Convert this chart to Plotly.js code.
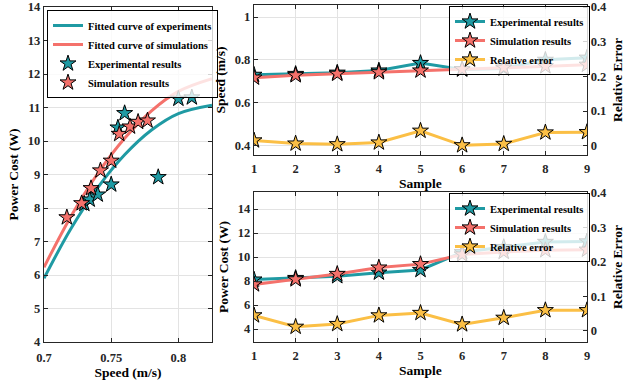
<!DOCTYPE html>
<html>
<head>
<meta charset="utf-8">
<script src="https://cdn.plot.ly/plotly-3.0.1.min.js"></script>
<style>html,body{margin:0;padding:0;background:#fff;}#chart{width:637px;height:383px;}</style>
</head>
<body>
<div id="chart"></div>
<script>
// ---- data ----
var samples = [1, 2, 3, 4, 5, 6, 7, 8, 9];
var expSpeed = [0.730, 0.734, 0.740, 0.750, 0.785, 0.755, 0.760, 0.800, 0.810];
var simSpeed = [0.717, 0.728, 0.735, 0.742, 0.750, 0.756, 0.764, 0.770, 0.777];
var speedErr = [0.015, 0.006, 0.004, 0.009, 0.043, 0.001, 0.005, 0.038, 0.039];
var expPower = [8.12, 8.25, 8.40, 8.70, 8.92, 10.40, 10.83, 11.26, 11.30];
var simPower = [7.72, 8.14, 8.59, 9.12, 9.41, 10.21, 10.43, 10.57, 10.61];
var powerErr = [0.045, 0.012, 0.020, 0.045, 0.052, 0.019, 0.038, 0.060, 0.060];
// fitted curves
var fitSpeed = [0.700, 0.720, 0.740, 0.760, 0.780, 0.800, 0.825];
var fitExpPower = [5.90, 7.38, 8.61, 9.59, 10.33, 10.82, 11.07];
var fitSimPower = [6.23, 7.75, 9.03, 10.08, 10.90, 11.48, 11.86];

var teal = '#1f9aa3', red = '#f4716b', yellow = '#fbbf45';
var FONT = 'Liberation Serif';
var axisCol = '#262626';

function star(color) {
  return {symbol: 'star', size: 12, color: color, line: {color: '#000', width: 1}};
}

var traces = [
  {x: fitSpeed, y: fitExpPower, mode: 'lines', line: {color: teal, width: 3, shape: 'spline'},
   name: 'Fitted curve of experiments', xaxis: 'x', yaxis: 'y', legend: 'legend'},
  {x: fitSpeed, y: fitSimPower, mode: 'lines', line: {color: red, width: 3, shape: 'spline'},
   name: 'Fitted curve of simulations', xaxis: 'x', yaxis: 'y', legend: 'legend'},
  {x: expSpeed, y: expPower, mode: 'markers', marker: star(teal),
   name: 'Experimental results', xaxis: 'x', yaxis: 'y', legend: 'legend'},
  {x: simSpeed, y: simPower, mode: 'markers', marker: star(red),
   name: 'Simulation results', xaxis: 'x', yaxis: 'y', legend: 'legend'},

  {x: samples, y: expSpeed, mode: 'lines+markers', line: {color: teal, width: 3}, marker: star(teal),
   name: 'Experimental results', xaxis: 'x2', yaxis: 'y2', legend: 'legend2'},
  {x: samples, y: simSpeed, mode: 'lines+markers', line: {color: red, width: 3}, marker: star(red),
   name: 'Simulation results', xaxis: 'x2', yaxis: 'y2', legend: 'legend2'},
  {x: samples, y: speedErr, mode: 'lines+markers', line: {color: yellow, width: 3}, marker: star(yellow),
   name: 'Relative error', xaxis: 'x2', yaxis: 'y3', legend: 'legend2'},

  {x: samples, y: expPower, mode: 'lines+markers', line: {color: teal, width: 3}, marker: star(teal),
   name: 'Experimental results', xaxis: 'x3', yaxis: 'y4', legend: 'legend3'},
  {x: samples, y: simPower, mode: 'lines+markers', line: {color: red, width: 3}, marker: star(red),
   name: 'Simulation results', xaxis: 'x3', yaxis: 'y4', legend: 'legend3'},
  {x: samples, y: powerErr, mode: 'lines+markers', line: {color: yellow, width: 3}, marker: star(yellow),
   name: 'Relative error', xaxis: 'x3', yaxis: 'y5', legend: 'legend3'}
];

var W = 637, H = 383;
function dx(a, b) { return [a / W, b / W]; }
function dy(top, bottom) { return [1 - bottom / H, 1 - top / H]; }

var tickFont = {family: FONT, size: 12.5, color: axisCol, weight: 700};
var titleFont = {family: FONT, size: 13.5, color: '#000', weight: 700};

function ax(extra) {
  var base = {
    showline: true, linecolor: axisCol, linewidth: 1.2,
    ticks: 'inside', ticklen: 4, tickcolor: axisCol, tickwidth: 1,
    showgrid: true, gridcolor: '#e3e3e3', gridwidth: 1,
    zeroline: false, tickfont: tickFont, automargin: false
  };
  for (var k in extra) base[k] = extra[k];
  return base;
}

function leg(x, y, size) {
  return {
    font: {family: FONT, size: size, color: '#000', weight: 700},
    bgcolor: 'rgba(255,255,255,0.8)', bordercolor: '#000', borderwidth: 1,
    xanchor: 'left', yanchor: 'top', itemwidth: 30, tracegroupgap: 0,
    x: x / W, y: 1 - y / H
  };
}

var layout = {
  width: W, height: H,
  margin: {l: 0, r: 0, t: 0, b: 0},
  paper_bgcolor: '#fff', plot_bgcolor: '#fff',
  showlegend: true,
  xaxis: ax({domain: dx(44, 212), range: [0.7, 0.825], tickvals: [0.7, 0.75, 0.8], ticktext: ['0.7', '0.75', '0.8'],
    mirror: 'ticks', anchor: 'y', ticklabelstandoff: 4, title: {text: 'Speed (m/s)', font: titleFont, standoff: 2}}),
  yaxis: ax({domain: dy(7, 342), range: [4, 14], dtick: 1, mirror: 'ticks', anchor: 'x',
    title: {text: 'Power Cost (W)', font: titleFont, standoff: 6}}),

  xaxis2: ax({domain: dx(254, 587), range: [1, 9], dtick: 1, mirror: 'ticks', anchor: 'y2', ticklabelstandoff: 2,
    title: {text: 'Sample', font: titleFont, standoff: 0}}),
  yaxis2: ax({domain: dy(5, 155), range: [0.356, 1.056], tickvals: [0.4, 0.6, 0.8, 1], ticktext: ['0.4', '0.6', '0.8', '1'],
    anchor: 'x2', title: {text: 'Speed (m/s)', font: titleFont, standoff: 6}}),
  yaxis3: ax({domain: dy(5, 155), range: [-0.027, 0.406], tickvals: [0, 0.1, 0.2, 0.3, 0.4], ticktext: ['0', '0.1', '0.2', '0.3', '0.4'],
    overlaying: 'y2', side: 'right', anchor: 'x2',
    showgrid: false, title: {text: 'Relative Error', font: titleFont, standoff: 6}}),

  xaxis3: ax({domain: dx(254, 587), range: [1, 9], dtick: 1, mirror: 'ticks', anchor: 'y4', ticklabelstandoff: 2,
    title: {text: 'Sample', font: titleFont, standoff: 0}}),
  yaxis4: ax({domain: dy(192, 342), range: [2.92, 15.42], tickvals: [4, 6, 8, 10, 12, 14],
    anchor: 'x3', title: {text: 'Power Cost (W)', font: titleFont, standoff: 6}}),
  yaxis5: ax({domain: dy(192, 342), range: [-0.032, 0.402], tickvals: [0, 0.1, 0.2, 0.3, 0.4], ticktext: ['0', '0.1', '0.2', '0.3', '0.4'],
    overlaying: 'y4', side: 'right', anchor: 'x3',
    showgrid: false, title: {text: 'Relative Error', font: titleFont, standoff: 6}}),

  legend: leg(47, 10, 10.5),
  legend2: leg(449, 6, 10.5),
  legend3: leg(449, 193, 10.5)
};

Plotly.newPlot('chart', traces, layout, {displayModeBar: false, staticPlot: true});
</script>
</body>
</html>
